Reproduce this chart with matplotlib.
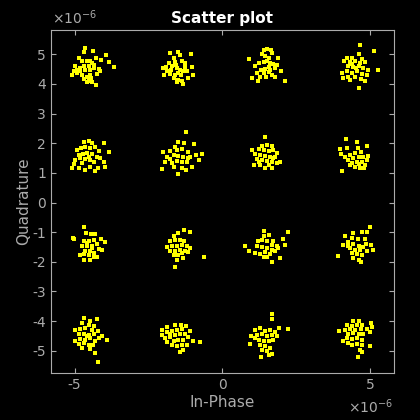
import numpy as np
import matplotlib
matplotlib.use("Agg")
from matplotlib import pyplot as plt

# received symbols, in units of 1e-6, one cluster at a time
x_tl = [-4.64, -4.67, -4.38, -3.93, -4.27, -4.11, -3.85, -3.68, -4.86, -4.75, -4.58, -4.47, -4.41, -4.53, -4.70,
        -4.81, -4.92, -5.03, -5.09, -4.92, -4.64, -4.36, -4.19, -4.24, -4.47, -4.58, -4.67, -4.53, -4.41, -4.58,
        -4.27, -4.81, -4.36, -4.49, -4.98, -4.15, -4.75, -4.45]
y_tl = [5.21, 5.07, 5.10, 4.96, 4.89, 4.80, 4.74, 4.58, 4.89, 4.76, 4.78, 4.76, 4.70, 4.62, 4.59,
        4.53, 4.48, 4.42, 4.31, 4.37, 4.48, 4.53, 4.51, 4.33, 4.31, 4.25, 4.18, 4.09, 4.06, 4.06,
        3.95, 4.42, 4.65, 4.48, 4.59, 4.42, 4.29, 4.20]

x_tl2 = [-1.77, -1.52, -1.43, -1.07, -1.65, -1.90, -2.01, -1.82, -1.60, -1.37, -1.26, -1.71, -1.54, -1.43, -1.32,
         -1.20, -1.03, -1.00, -1.88, -1.77, -1.60, -1.49, -1.65, -1.49, -1.37, -1.34, -1.54, -1.15, -1.97, -1.73,
         -1.56, -1.26, -1.41]
y_tl2 = [5.04, 5.07, 4.98, 5.01, 4.87, 4.56, 4.54, 4.70, 4.74, 4.76, 4.70, 4.59, 4.54, 4.48, 4.42,
         4.42, 4.56, 4.29, 4.42, 4.33, 4.31, 4.37, 4.20, 4.14, 4.09, 4.00, 4.06, 4.20, 4.29, 4.48,
         4.65, 4.56, 4.29]

x_tr = [1.39, 1.50, 1.65, 1.69, 1.89, 0.88, 1.33, 1.44, 1.56, 1.22, 1.39, 1.50, 1.61, 1.72, 1.84, 1.78,
        1.98, 1.56, 1.44, 1.31, 1.16, 1.39, 1.56, 1.67, 1.76, 1.47, 1.27, 0.99, 1.20, 2.10, 1.61, 1.11]
y_tr = [5.15, 5.19, 5.15, 5.04, 4.89, 4.85, 5.01, 4.93, 4.87, 4.70, 4.74, 4.76, 4.70, 4.67, 4.65, 4.54,
        4.45, 4.56, 4.51, 4.48, 4.37, 4.37, 4.40, 4.31, 4.22, 4.25, 4.25, 4.20, 4.09, 4.11, 4.48, 4.59]

x_tr2 = [4.65, 5.14, 4.60, 4.20, 4.37, 4.71, 4.12, 4.31, 4.48, 4.65, 4.82, 4.26, 4.43, 4.60, 4.76, 4.93,
         5.25, 4.03, 4.20, 4.37, 4.54, 4.71, 4.88, 4.09, 4.31, 4.48, 4.69, 4.82, 4.60, 4.26, 4.51, 4.39]
y_tr2 = [5.30, 5.10, 5.01, 4.89, 4.87, 4.85, 4.78, 4.74, 4.76, 4.70, 4.74, 4.59, 4.56, 4.59, 4.54, 4.48,
         4.48, 4.37, 4.42, 4.37, 4.42, 4.33, 4.31, 4.20, 4.14, 4.22, 4.18, 4.09, 3.86, 4.25, 4.54, 4.67]

x_ml = [-4.69, -4.53, -4.41, -4.02, -3.85, -4.92, -4.78, -4.64, -4.47, -4.30, -4.19, -4.86, -4.72, -4.58, -4.41,
        -4.24, -4.13, -4.98, -4.81, -4.64, -4.47, -4.36, -4.02, -3.96, -5.03, -5.09, -4.86, -4.64, -4.47, -4.30,
        -4.22, -4.75, -4.53]
y_ml = [2.03, 2.08, 2.00, 2.00, 1.72, 1.77, 1.83, 1.89, 1.85, 1.89, 1.74, 1.61, 1.63, 1.66, 1.63,
        1.55, 1.49, 1.44, 1.49, 1.47, 1.44, 1.38, 1.36, 1.21, 1.29, 1.16, 1.16, 1.10, 1.21, 1.05,
        1.18, 1.33, 1.55]

x_ml2 = [-1.23, -1.49, -1.29, -0.96, -1.60, -2.01, -1.77, -1.54, -1.37, -1.15, -0.89, -0.70, -1.88, -1.65, -1.49,
         -1.32, -1.09, -0.81, -1.93, -1.71, -1.54, -1.37, -1.20, -1.03, -2.05, -1.65, -1.37, -1.23, -1.49, -1.15,
         -1.79]
y_ml2 = [2.39, 2.03, 2.00, 1.97, 1.89, 1.72, 1.74, 1.77, 1.81, 1.72, 1.61, 1.63, 1.55, 1.61, 1.58,
         1.55, 1.55, 1.44, 1.38, 1.33, 1.40, 1.38, 1.36, 1.21, 1.13, 1.21, 1.16, 1.10, 0.95, 1.49,
         1.47]

x_mr = [1.44, 0.99, 1.33, 1.50, 1.67, 1.22, 1.39, 1.56, 1.72, 1.84, 1.11, 1.27, 1.44, 1.61,
        1.78, 1.95, 1.16, 1.33, 1.50, 1.67, 1.84, 1.05, 1.27, 1.44, 1.67, 1.56, 1.22, 1.72]
y_mr = [2.22, 1.77, 1.92, 1.94, 1.92, 1.81, 1.77, 1.74, 1.77, 1.66, 1.63, 1.61, 1.58, 1.55,
        1.55, 1.38, 1.47, 1.44, 1.40, 1.38, 1.33, 1.27, 1.27, 1.16, 1.18, 1.27, 1.38, 1.49]

x_mr2 = [4.17, 4.54, 4.88, 3.98, 4.20, 4.57, 4.01, 4.15, 4.31, 4.48, 4.69, 4.91, 4.26, 4.43,
         4.60, 4.76, 4.37, 4.54, 4.71, 4.82, 4.48, 4.65, 4.80, 4.03, 4.31, 4.88, 4.62]
y_mr2 = [2.14, 2.03, 1.92, 1.81, 1.83, 1.85, 1.63, 1.55, 1.61, 1.66, 1.70, 1.58, 1.44, 1.49,
         1.52, 1.55, 1.33, 1.36, 1.38, 1.27, 1.21, 1.18, 1.16, 1.07, 1.25, 1.44, 1.29]

x_bl = [-4.67, -5.06, -5.01, -4.60, -4.45, -4.30, -4.11, -3.96, -4.69, -4.53, -4.36, -4.75, -4.58, -4.41, -4.24,
        -4.19, -4.08, -4.64, -4.47, -4.36, -4.81, -4.69, -4.53, -4.36, -4.24, -4.69, -4.49, -4.58, -4.41]
y_bl = [-0.84, -1.18, -1.22, -1.03, -1.07, -1.07, -1.22, -1.34, -1.29, -1.31, -1.26, -1.45, -1.48, -1.45, -1.40,
        -1.56, -1.59, -1.63, -1.65, -1.71, -1.76, -1.74, -1.78, -1.85, -1.85, -1.93, -1.93, -1.37, -1.54]

x_bl2 = [-1.29, -1.11, -1.52, -1.65, -1.77, -1.60, -1.43, -1.29, -1.88, -1.71, -1.54, -1.37, -1.20,
         -1.09, -1.77, -1.60, -1.43, -1.26, -1.65, -1.49, -1.32, -1.54, -1.60, -0.62, -1.37, -1.15]
y_bl2 = [-0.92, -0.98, -1.03, -1.14, -1.29, -1.26, -1.26, -1.31, -1.51, -1.48, -1.45, -1.42, -1.48,
         -1.54, -1.65, -1.63, -1.59, -1.63, -1.78, -1.76, -1.87, -1.93, -2.19, -1.85, -1.71, -1.67]

x_br = [1.42, 2.21, 0.77, 0.90, 1.39, 1.56, 1.72, 2.06, 1.20, 1.33, 1.50, 1.67, 1.84, 2.12,
        1.16, 1.33, 1.50, 1.67, 1.89, 1.11, 1.27, 1.44, 1.61, 1.78, 1.95, 1.39, 1.67, 1.50]
y_br = [-0.95, -1.00, -1.45, -1.63, -1.14, -1.11, -1.29, -1.22, -1.31, -1.26, -1.31, -1.42, -1.45, -1.42,
        -1.48, -1.51, -1.54, -1.59, -1.54, -1.71, -1.74, -1.67, -1.74, -1.65, -1.87, -1.85, -1.99, -1.85]

x_br2 = [4.99, 4.88, 4.71, 4.43, 4.15, 4.37, 4.57, 4.82, 4.06, 4.26, 4.43, 4.62, 4.76, 5.02,
         4.31, 4.48, 4.65, 4.88, 5.10, 3.92, 4.37, 4.54, 4.71, 4.43, 4.60, 4.69, 4.26, 4.84]
y_br2 = [-0.81, -0.98, -1.00, -1.03, -1.14, -1.20, -1.22, -1.22, -1.42, -1.33, -1.40, -1.45, -1.51, -1.42,
         -1.54, -1.59, -1.59, -1.63, -1.59, -1.82, -1.71, -1.74, -1.76, -1.87, -1.93, -1.99, -1.45, -1.40]

x_ll = [-4.69, -4.47, -4.24, -4.75, -4.53, -4.36, -4.98, -4.81, -4.64, -4.41, -4.22, -4.86, -4.69, -4.53, -4.36, -4.08,
        -4.98, -4.81, -4.64, -4.47, -4.30, -3.91, -4.86, -4.69, -4.53, -4.38, -4.75, -4.47, -4.30, -4.22, -4.58, -4.19]
y_ll = [-3.89, -3.98, -3.92, -4.06, -4.12, -4.17, -4.29, -4.25, -4.23, -4.29, -4.34, -4.45, -4.43, -4.48, -4.43, -4.51,
        -4.66, -4.59, -4.62, -4.57, -4.68, -4.62, -4.77, -4.74, -4.79, -4.79, -4.90, -4.93, -5.07, -5.37, -4.51, -4.57]

x_ll2 = [-2.05, -1.88, -1.60, -1.41, -1.23, -2.05, -1.86, -1.71, -1.54, -1.37, -1.11, -1.93, -1.77, -1.60, -1.43,
         -1.26, -1.88, -1.65, -1.49, -1.32, -1.00, -0.75, -1.71, -1.54, -1.37, -1.20, -1.43, -1.32, -1.79, -1.15]
y_ll2 = [-4.29, -4.21, -4.14, -4.12, -4.17, -4.48, -4.36, -4.32, -4.29, -4.25, -4.32, -4.57, -4.54, -4.48, -4.43,
         -4.45, -4.70, -4.66, -4.62, -4.62, -4.68, -4.70, -4.81, -4.85, -4.81, -4.79, -5.04, -4.99, -4.43, -4.54]

x_lr = [1.67, 1.69, 2.21, 1.11, 1.27, 1.44, 1.61, 1.78, 1.92, 0.97, 1.16, 1.33, 1.50, 1.67, 1.84,
        1.22, 1.39, 1.56, 1.72, 0.94, 1.27, 1.44, 1.61, 1.33, 1.50, 1.67, 1.31, 1.56, 1.11]
y_lr = [-3.76, -3.92, -4.25, -4.29, -4.23, -4.32, -4.29, -4.36, -4.23, -4.51, -4.48, -4.45, -4.51, -4.48, -4.51,
        -4.62, -4.66, -4.68, -4.62, -4.77, -4.81, -4.85, -4.90, -4.96, -5.02, -5.11, -5.22, -5.13, -4.57]

x_lr2 = [4.43, 4.62, 5.02, 4.20, 4.37, 4.54, 4.73, 3.94, 4.15, 4.31, 4.48, 4.69, 4.88, 5.05, 4.99, 4.26,
         4.43, 4.60, 4.76, 4.06, 4.20, 4.37, 4.54, 4.71, 4.37, 4.54, 4.71, 4.99, 4.65, 4.73, 4.57, 4.26]
y_lr2 = [-4.01, -3.98, -4.06, -4.14, -4.17, -4.14, -4.12, -4.32, -4.29, -4.25, -4.29, -4.25, -4.25, -4.21, -4.36, -4.43,
         -4.40, -4.43, -4.45, -4.66, -4.57, -4.59, -4.57, -4.62, -4.79, -4.77, -4.79, -4.85, -4.99, -5.04, -5.22, -4.73]

x_all = np.concatenate([x_tl, x_tl2, x_tr, x_tr2, x_ml, x_ml2, x_mr, x_mr2,
                        x_bl, x_bl2, x_br, x_br2, x_ll, x_ll2, x_lr, x_lr2]) * 1e-6
y_all = np.concatenate([y_tl, y_tl2, y_tr, y_tr2, y_ml, y_ml2, y_mr, y_mr2,
                        y_bl, y_bl2, y_br, y_br2, y_ll, y_ll2, y_lr, y_lr2]) * 1e-6

x_ticks = [-5, 0, 5]
y_ticks = [-5, -4, -3, -2, -1, 0, 1, 2, 3, 4, 5]

plt.rcParams['axes.unicode_minus'] = False
gray = '#ababab'

fig = plt.figure(figsize=(4.2, 4.2), dpi=100, facecolor='black')
ax = fig.add_axes([0.1214, 0.1119, 0.8167, 0.8167], facecolor='black')
ax.plot(x_all, y_all, 's', color='#ffff00', ms=2.7, mew=0)

ax.set_xlim(-5.8e-6, 5.8e-6)
ax.set_ylim(-5.75e-6, 5.82e-6)
ax.set_xticks(np.array(x_ticks) * 1e-6)
ax.set_yticks(np.array(y_ticks) * 1e-6)
ax.set_xticklabels([str(t) for t in x_ticks])
ax.set_yticklabels([str(t) for t in y_ticks])
ax.tick_params(direction='in', length=3.5, width=0.8, colors=gray, labelsize=10,
               top=True, right=True)
for s in ax.spines.values():
    s.set_color(gray)
    s.set_linewidth(0.8)

ax.set_title('Scatter plot', color='white', fontsize=11, fontweight='bold', pad=5)
ax.set_xlabel('In-Phase', color=gray, fontsize=11, labelpad=2)
ax.set_ylabel('Quadrature', color=gray, fontsize=11, labelpad=1)

fig.text(0.124, 0.935, r'$\times10^{-6}$', color=gray, fontsize=10, va='bottom', ha='left')
fig.text(0.937, 0.01, r'$\times10^{-6}$', color=gray, fontsize=10, va='bottom', ha='right')

fig.savefig('out.png', dpi=100, facecolor='black')
